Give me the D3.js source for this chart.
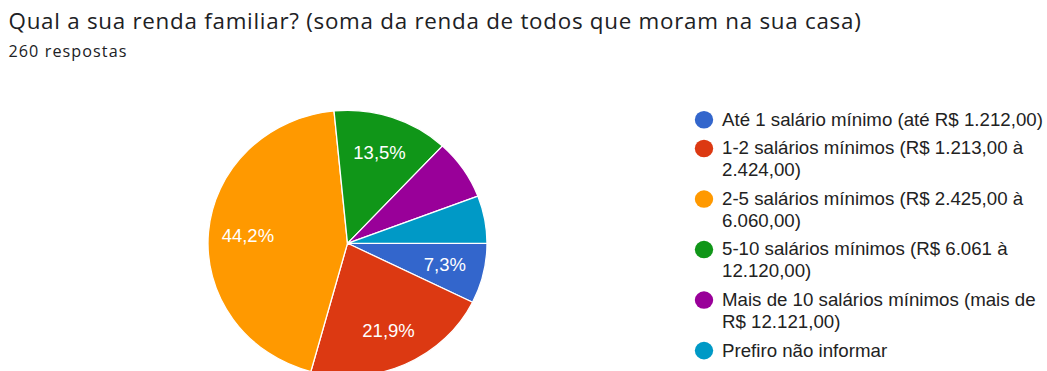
<!DOCTYPE html>
<html>
<head>
<meta charset="utf-8">
<script src="https://cdn.jsdelivr.net/npm/d3@7"></script>
<style>
  html, body { margin: 0; padding: 0; background: #fff; }
  svg { display: block; }
</style>
</head>
<body>
<svg id="chart" width="1047" height="371"></svg>
<script>
// Survey question and response total
const title = "Qual a sua renda familiar? (soma da renda de todos que moram na sua casa)";
const subtitle = "260 respostas";

// Answer options, in the order they are listed and drawn
const categories = [
  "Até 1 salário mínimo (até R$ 1.212,00)",
  "1-2 salários mínimos (R$ 1.213,00 à 2.424,00)",
  "2-5 salários mínimos (R$ 2.425,00 à 6.060,00)",
  "5-10 salários mínimos (R$ 6.061 à 12.120,00)",
  "Mais de 10 salários mínimos (mais de R$ 12.121,00)",
  "Prefiro não informar"
];

// Number of answers per option (260 in total)
const counts = [19, 57, 115, 35, 19, 15];

const colors = ["#3366cc", "#dc3912", "#ff9900", "#109618", "#990099", "#0099c6"];

const squash = 0.953;            // vertical scale of the whole drawing
const svg = d3.select("#chart");
const root = svg.append("g").attr("transform", `scale(1,${squash})`);

// Heading text, spaced out to span a given width
function heading(txt, y, size, width) {
  const t = root.append("text")
    .attr("x", 8.5).attr("y", y)
    .attr("font-family", "'Open Sans', Roboto, sans-serif")
    .attr("font-size", size)
    .attr("fill", "#202124")
    .text(txt);
  const w = t.node().getComputedTextLength();
  t.attr("letter-spacing", Math.max(0, (width - w) / txt.length));
  return t;
}
heading(title, 30.7, 22.4, 853);
heading(subtitle, 60.1, 16.2, 119);

// Pie
const cx = 347.5, cy = 255.3, r = 139.5;
const total = d3.sum(counts);
const pie = d3.pie().sort(null).value(d => d)
  .startAngle(Math.PI / 2).endAngle(Math.PI / 2 + 2 * Math.PI);
const arcs = pie(counts);
const arc = d3.arc().innerRadius(0).outerRadius(r);
const color = d3.scaleOrdinal().domain(d3.range(categories.length)).range(colors);

const pg = root.append("g").attr("transform", `translate(${cx},${cy})`);
pg.selectAll("path.slice")
  .data(arcs)
  .join("path")
  .attr("class", "slice")
  .attr("d", arc)
  .attr("fill", (d, i) => color(i))
  .attr("stroke", "#fff")
  .attr("stroke-width", 1.3);

// Percentage labels: only where the text box fits inside its slice with padding
const fmt = v => (v * 100).toFixed(1).replace(".", ",") + "%";
const labelR = 100, labelFont = 18.5, pad = 5;
const labelArc = d3.arc().innerRadius(labelR).outerRadius(labelR);

function fits(d, w, h) {
  const [x, y] = labelArc.centroid(d);
  const corners = [[x - w / 2, y - h / 2], [x + w / 2, y - h / 2], [x - w / 2, y + h / 2], [x + w / 2, y + h / 2]];
  // boundary rays as unit vectors (d3 angle: 0 = up, clockwise)
  const ray = a => [Math.sin(a), -Math.cos(a)];
  const [sx, sy] = ray(d.startAngle), [ex, ey] = ray(d.endAngle);
  if (d.endAngle - d.startAngle >= Math.PI) return true;
  return corners.every(([px, py]) => {
    const dStart = sx * py - sy * px;   // distance inside, from start ray
    const dEnd = px * ey - py * ex;     // distance inside, from end ray
    return dStart >= pad && dEnd >= pad && Math.hypot(px, py) <= r - pad;
  });
}

const labels = pg.selectAll("text.pct")
  .data(arcs)
  .join("text")
  .attr("class", "pct")
  .attr("transform", d => `translate(${labelArc.centroid(d)})`)
  .attr("text-anchor", "middle")
  .attr("dy", "0.36em")
  .attr("font-family", "Arial, 'Liberation Sans', sans-serif")
  .attr("font-size", labelFont)
  .attr("fill", "#fff")
  .text(d => fmt(d.data / total));

labels.each(function (d) {
  const w = this.getComputedTextLength();
  if (!fits(d, w, labelFont * 0.72)) d3.select(this).remove();
});

// Legend with wrapped entries
const lx = 704, tx = 722, maxW = 326, lineH = 22.8, gap = 30.2;
const legend = root.append("g")
  .attr("font-family", "Arial, 'Liberation Sans', sans-serif")
  .attr("font-size", 18.7)
  .attr("fill", "#222");

let base = 131.9;
categories.forEach((c, i) => {
  const t = legend.append("text").attr("x", tx).attr("y", base);
  const words = c.split(" ");
  let lines = [], cur = "";
  const probe = legend.append("text").attr("visibility", "hidden");
  words.forEach(wd => {
    const trial = cur ? cur + " " + wd : wd;
    probe.text(trial);
    if (cur && probe.node().getComputedTextLength() > maxW) { lines.push(cur); cur = wd; }
    else cur = trial;
  });
  lines.push(cur);
  probe.remove();
  lines.forEach((ln, j) => {
    t.append("tspan").attr("x", tx).attr("y", base + j * lineH).text(ln);
  });
  legend.append("circle")
    .attr("cx", lx).attr("cy", base - 6.2).attr("r", 9.2)
    .attr("fill", color(i));
  base += (lines.length - 1) * lineH + gap;
});
</script>
</body>
</html>
